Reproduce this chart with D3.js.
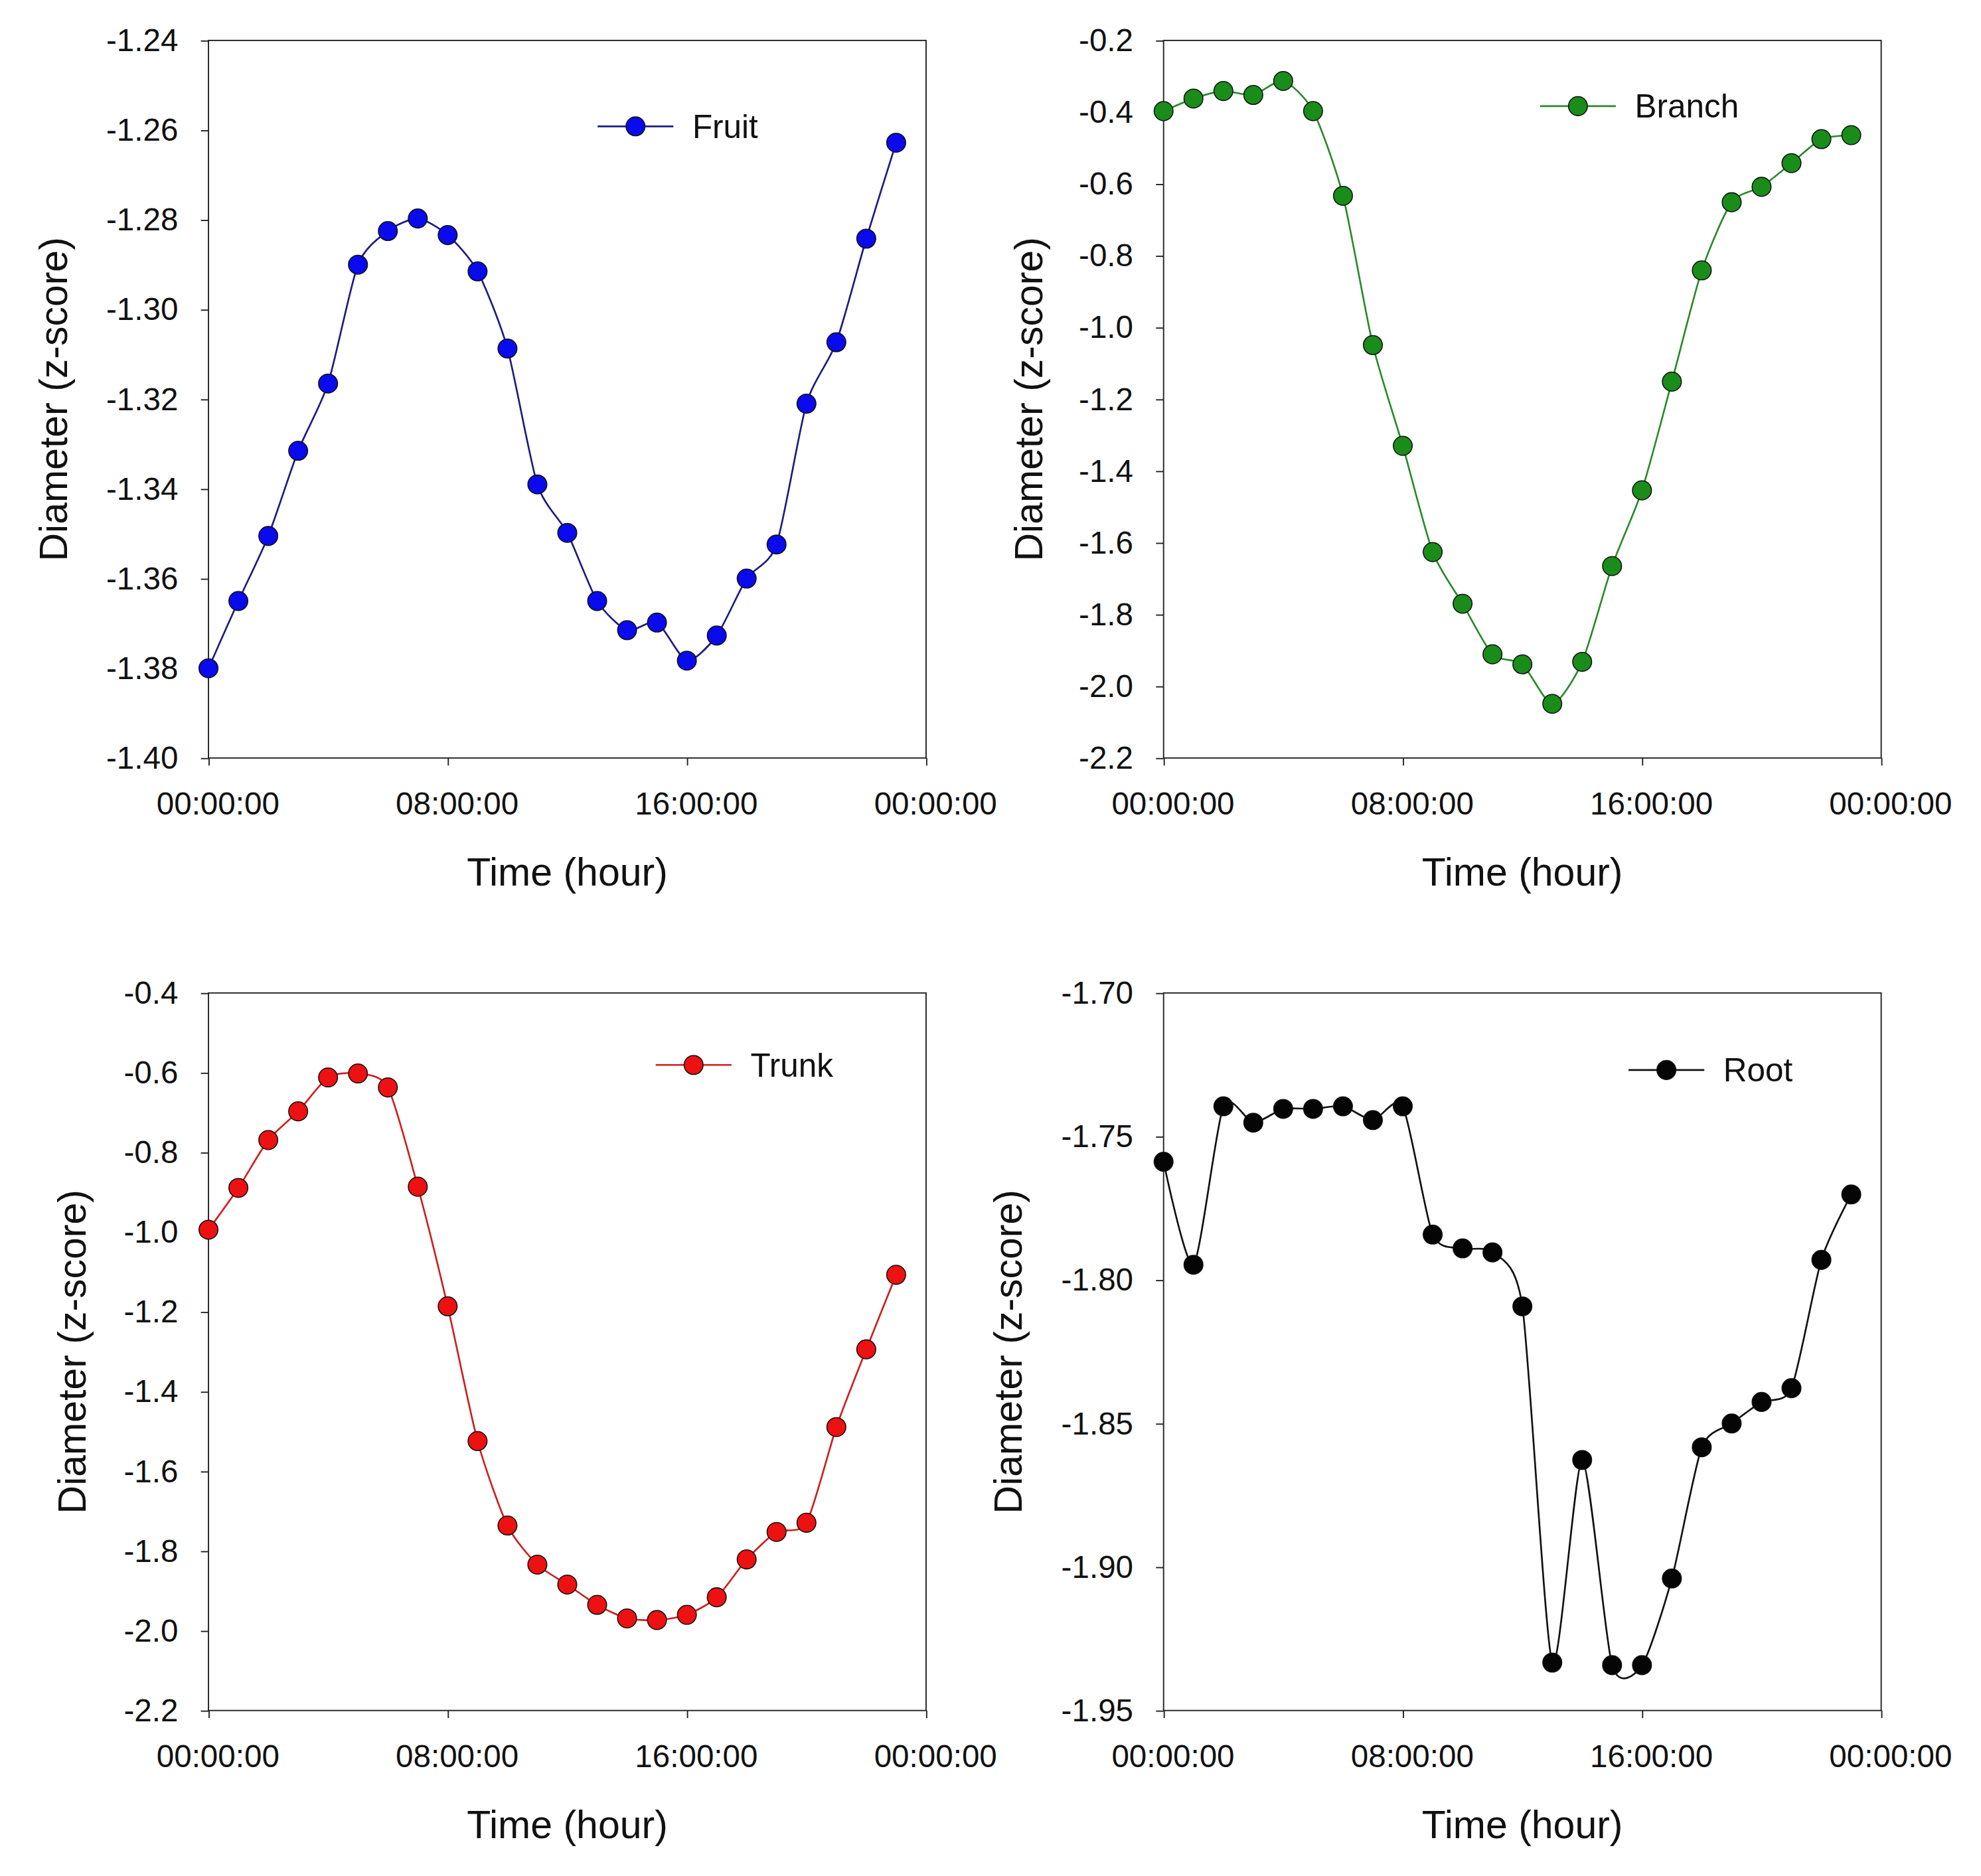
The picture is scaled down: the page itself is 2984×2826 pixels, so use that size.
<!DOCTYPE html>
<html>
<head>
<meta charset="utf-8">
<script src="https://cdn.jsdelivr.net/npm/d3@7"></script>
<style>
  body { margin: 0; background: #fff; }
  text { font-family: "Liberation Sans", Arial, sans-serif; fill: #111; }
</style>
</head>
<body>
<div id="chart"></div>
<script>
// hours of the day (one point per hour)
var hours = d3.range(0, 24);
var xTicks = [0, 8, 16, 24];
var xTickLabels = ["00:00:00", "08:00:00", "16:00:00", "00:00:00"];

var fruit = [-1.380, -1.365, -1.3505, -1.3315, -1.3165, -1.290, -1.2825, -1.2797, -1.2834, -1.2915, -1.3087, -1.339,
             -1.3498, -1.365, -1.3715, -1.3698, -1.3783, -1.3727, -1.360, -1.3524, -1.321, -1.3073, -1.2842, -1.2628];
var branch = [-0.397, -0.362, -0.341, -0.352, -0.313, -0.397, -0.633, -1.049, -1.330, -1.626, -1.770, -1.911,
              -1.939, -2.049, -1.932, -1.665, -1.454, -1.151, -0.841, -0.651, -0.608, -0.542, -0.475, -0.464];
var trunk = [-0.994, -0.889, -0.769, -0.697, -0.612, -0.602, -0.637, -0.886, -1.186, -1.524, -1.736, -1.834,
             -1.884, -1.935, -1.969, -1.973, -1.960, -1.916, -1.821, -1.752, -1.729, -1.489, -1.294, -1.107];
var root = [-1.7588, -1.7947, -1.7395, -1.7452, -1.7404, -1.7404, -1.7395, -1.7443, -1.7395, -1.7842, -1.789, -1.7904,
            -1.8092, -1.9333, -1.8627, -1.9342, -1.9342, -1.904, -1.8583, -1.850, -1.8425, -1.8377, -1.793, -1.7702];

var fruitTicks = [-1.40, -1.38, -1.36, -1.34, -1.32, -1.30, -1.28, -1.26, -1.24];
var branchTicks = [-2.2, -2.0, -1.8, -1.6, -1.4, -1.2, -1.0, -0.8, -0.6, -0.4, -0.2];
var trunkTicks = [-2.2, -2.0, -1.8, -1.6, -1.4, -1.2, -1.0, -0.8, -0.6, -0.4];
var rootTicks = [-1.95, -1.90, -1.85, -1.80, -1.75, -1.70];

var svg = d3.select("#chart").append("svg")
  .attr("width", 2984).attr("height", 2826)
  .attr("viewBox", "0 0 1568 1485");

function panel(opt) {
  var W = 568, H = 568;
  var g = svg.append("g").attr("transform", "translate(" + opt.left + "," + opt.top + ")");
  var x = d3.scaleLinear().domain([0, 24]).range([0, W]);
  var y = d3.scaleLinear().domain(opt.domain).range([H, 0]);

  g.append("rect").attr("width", W).attr("height", H)
    .attr("fill", "none").attr("stroke", "#222").attr("stroke-width", 1);

  var fmt = d3.format(opt.fmt);
  var xa = g.append("g").attr("transform", "translate(0," + H + ")")
    .call(d3.axisBottom(x).tickValues(xTicks).tickSize(6).tickPadding(21)
      .tickFormat(function(d, i) { return xTickLabels[i]; }));
  var ya = g.append("g")
    .call(d3.axisLeft(y).tickValues(opt.ticks).tickSize(6).tickPadding(18)
      .tickFormat(function(d) { return fmt(d).replace("\u2212", "-"); }));
  [xa, ya].forEach(function(a) {
    a.attr("font-size", null);
    a.select(".domain").remove();
    a.selectAll("line").attr("stroke", "#222");
    a.selectAll("text").style("font-size", "25px").style("font-family", "Liberation Sans, Arial, sans-serif")
      .attr("fill", "#111");
  });
  xa.selectAll("text").attr("dx", "7px");

  g.append("text").attr("x", W / 2).attr("y", H + 101)
    .attr("text-anchor", "middle").style("font-size", "31px").text("Time (hour)");
  g.append("text").attr("transform", "translate(" + opt.ylabX + "," + (H / 2) + ") rotate(-90)")
    .attr("text-anchor", "middle").attr("dy", "0.35em").style("font-size", "31px").text("Diameter (z-score)");

  var line = d3.line().x(function(d, i) { return x(hours[i]); }).y(function(d) { return y(d); })
    .curve(d3.curveCardinal.tension(0.3));
  g.append("path").datum(opt.data).attr("d", line)
    .attr("fill", "none").attr("stroke", opt.line).attr("stroke-width", 1.4);
  g.selectAll(".pt").data(opt.data).enter().append("circle")
    .attr("cx", function(d, i) { return x(hours[i]); }).attr("cy", function(d) { return y(d); })
    .attr("r", 7.5).attr("fill", opt.fill).attr("stroke", "#111").attr("stroke-width", 0.8);

  // legend
  var lg = g.append("g").attr("transform", "translate(" + opt.legX + "," + opt.legY + ")");
  lg.append("line").attr("x1", 0).attr("x2", 60).attr("stroke", opt.line).attr("stroke-width", 1.4);
  lg.append("circle").attr("cx", 30).attr("r", 7.5).attr("fill", opt.fill).attr("stroke", "#111").attr("stroke-width", 0.8);
  lg.append("text").attr("x", 75).attr("dy", "0.35em").style("font-size", "26px").text(opt.name);
}

panel({ left: 165, top: 32, domain: [-1.40, -1.24], ticks: fruitTicks, fmt: ".2f", data: fruit,
        line: "#1c1c80", fill: "#0a0aee", name: "Fruit", legX: 308, legY: 68, ylabX: -123 });
panel({ left: 921, top: 32, domain: [-2.2, -0.2], ticks: branchTicks, fmt: ".1f", data: branch,
        line: "#2a8a2a", fill: "#1a8c1a", name: "Branch", legX: 298, legY: 52, ylabX: -107 });
panel({ left: 165, top: 786, domain: [-2.2, -0.4], ticks: trunkTicks, fmt: ".1f", data: trunk,
        line: "#cc2020", fill: "#ee1111", name: "Trunk", legX: 354, legY: 57, ylabX: -108 });
panel({ left: 921, top: 786, domain: [-1.95, -1.70], ticks: rootTicks, fmt: ".2f", data: root,
        line: "#111", fill: "#050505", name: "Root", legX: 368, legY: 61, ylabX: -123 });
</script>
</body>
</html>
